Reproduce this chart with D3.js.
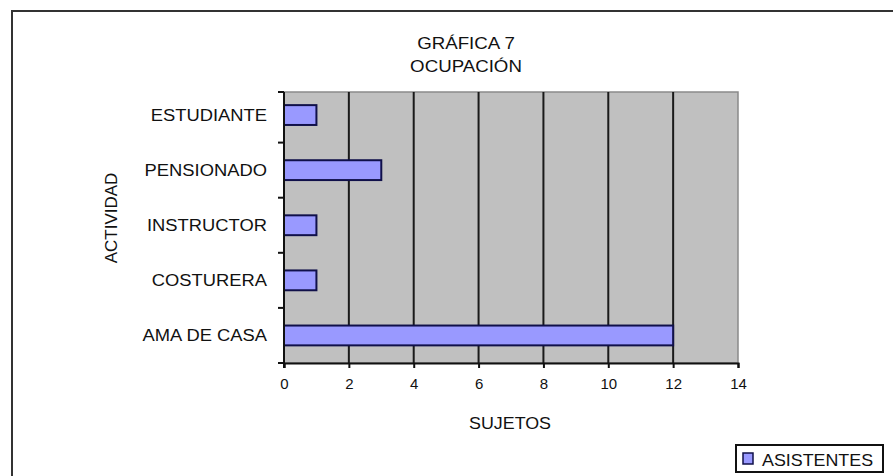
<!DOCTYPE html>
<html>
<head>
<meta charset="utf-8">
<script src="https://cdn.jsdelivr.net/npm/d3@7"></script>
<style>
  body { margin: 0; background: #fff; }
  text { font-family: "Liberation Sans", Arial, sans-serif; fill: #111; }
</style>
</head>
<body>
<div id="chart"></div>
<script>
// data
var categories = ["ESTUDIANTE", "PENSIONADO", "INSTRUCTOR", "COSTURERA", "AMA DE CASA"];
var asistentes = [1, 3, 1, 1, 12];
var xTicks = [0, 2, 4, 6, 8, 10, 12, 14];
var titleLines = ["GRÁFICA 7", "OCUPACIÓN"];
var seriesName = "ASISTENTES";

var W = 893, H = 476;
var plot = {left: 284, right: 738, top: 92, bottom: 363};

var svg = d3.select("#chart").append("svg")
    .attr("width", W)
    .attr("height", H);

// outer chart frame (right & bottom edges fall outside the picture)
svg.append("rect")
    .attr("x", 12).attr("y", 11)
    .attr("width", 900).attr("height", 500)
    .attr("fill", "#fff")
    .attr("stroke", "#333")
    .attr("stroke-width", 2);

var x = d3.scaleLinear().domain([0, 14]).range([plot.left, plot.right]);
var y = d3.scaleBand().domain(categories).range([87.5, plot.bottom]).padding(0);

// plot background
svg.append("rect")
    .attr("x", plot.left).attr("y", plot.top)
    .attr("width", plot.right - plot.left)
    .attr("height", plot.bottom - plot.top)
    .attr("fill", "#c0c0c0")
    .attr("stroke", "#8a8a8a")
    .attr("stroke-width", 1.5);

// vertical gridlines
svg.append("g").selectAll("line")
    .data(xTicks.filter(function(d) { return d > 0 && d < 14; }))
    .enter().append("line")
    .attr("x1", function(d) { return x(d); })
    .attr("x2", function(d) { return x(d); })
    .attr("y1", plot.top).attr("y2", plot.bottom)
    .attr("stroke", "#1a1a1a")
    .attr("stroke-width", 2);

// bars
var barH = y.bandwidth() * 0.36;
svg.append("g").selectAll("rect")
    .data(categories)
    .enter().append("rect")
    .attr("x", x(0))
    .attr("y", function(d) { return y(d) + y.bandwidth() / 2 - barH / 2; })
    .attr("width", function(d, i) { return x(asistentes[i]) - x(0); })
    .attr("height", barH)
    .attr("fill", "#9999ff")
    .attr("stroke", "#10104a")
    .attr("stroke-width", 2);

// x axis
var xAxis = d3.axisBottom(x)
    .tickValues(xTicks)
    .tickSize(5)
    .tickPadding(10);

var gx = svg.append("g")
    .attr("transform", "translate(0," + plot.bottom + ")")
    .call(xAxis);
gx.select(".domain").attr("stroke", "#111").attr("stroke-width", 2);
gx.selectAll(".tick line").attr("stroke", "#111").attr("stroke-width", 2);
gx.selectAll(".tick text")
    .attr("font-size", 15)
    .attr("font-family", "Liberation Sans, Arial, sans-serif")
    .attr("fill", "#111");

// y axis line and tick marks on the band boundaries
svg.append("line")
    .attr("x1", plot.left).attr("x2", plot.left)
    .attr("y1", plot.top).attr("y2", plot.bottom + 5)
    .attr("stroke", "#111").attr("stroke-width", 2);

var bounds = categories.map(function(d) { return Math.max(y(d), plot.top); });
bounds.push(plot.bottom);
svg.append("g").selectAll("line")
    .data(bounds)
    .enter().append("line")
    .attr("x1", plot.left - 6).attr("x2", plot.left)
    .attr("y1", function(d) { return d; })
    .attr("y2", function(d) { return d; })
    .attr("stroke", "#111").attr("stroke-width", 2);

// category labels
svg.append("g").selectAll("text")
    .data(categories)
    .enter().append("text")
    .attr("transform", function(d) {
      return "translate(267," + (y(d) + y.bandwidth() / 2 + 6) + ") scale(1.08,1)";
    })
    .attr("text-anchor", "end")
    .attr("font-size", 17)
    .text(function(d) { return d; });

// axis titles
svg.append("text")
    .attr("transform", "translate(510,429) scale(1.05,1)")
    .attr("text-anchor", "middle")
    .attr("font-size", 17)
    .text("SUJETOS");

svg.append("text")
    .attr("transform", "translate(117,218) rotate(-90)")
    .attr("text-anchor", "middle")
    .attr("font-size", 17)
    .text("ACTIVIDAD");

// title
svg.append("g").selectAll("text")
    .data(titleLines)
    .enter().append("text")
    .attr("transform", function(d, i) { return "translate(466," + (49 + i * 23) + ") scale(1.1,1)"; })
    .attr("text-anchor", "middle")
    .attr("font-size", 17)
    .text(function(d) { return d; });

// legend
var legend = svg.append("g").attr("transform", "translate(736,445)");
legend.append("rect")
    .attr("width", 147).attr("height", 27)
    .attr("fill", "#fff")
    .attr("stroke", "#111").attr("stroke-width", 2);
legend.append("rect")
    .attr("x", 7).attr("y", 8)
    .attr("width", 10).attr("height", 11)
    .attr("fill", "#9999ff")
    .attr("stroke", "#10104a").attr("stroke-width", 1.5);
legend.append("text")
    .attr("transform", "translate(26,21) scale(1.05,1)")
    .attr("font-size", 17)
    .text(seriesName);
</script>
</body>
</html>
